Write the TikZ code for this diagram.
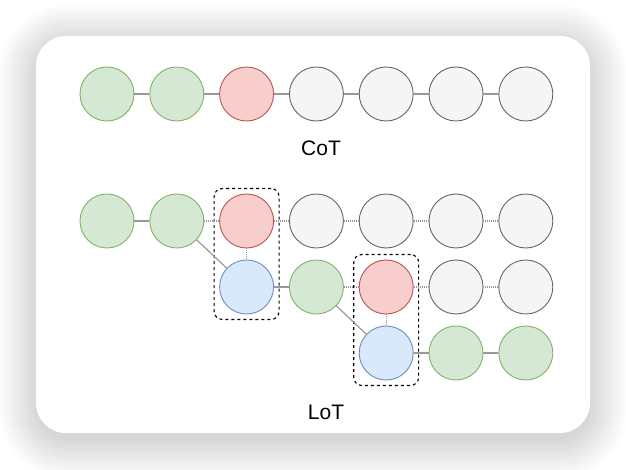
\documentclass[tikz,border=0pt]{standalone}
\usepackage{fontspec}
\setmainfont{Liberation Sans}
\usetikzlibrary{fit}
\definecolor{gfill}{HTML}{D5E8D4}
\definecolor{gline}{HTML}{82B366}
\definecolor{rfill}{HTML}{F8CECC}
\definecolor{rline}{HTML}{B85450}
\definecolor{nfill}{HTML}{F5F5F5}
\definecolor{nline}{HTML}{666666}
\definecolor{bfill}{HTML}{DAE8FC}
\definecolor{bline}{HTML}{6C8EBF}
\definecolor{conn}{HTML}{999999}
\tikzset{
  tok/.style={circle, minimum size=54pt, inner sep=0pt, line width=0.9pt},
  gtok/.style={tok, fill=gfill, draw=gline},
  rtok/.style={tok, fill=rfill, draw=rline},
  ntok/.style={tok, fill=nfill, draw=nline},
  btok/.style={tok, fill=bfill, draw=bline},
  solidlink/.style={draw=conn, line width=1.2pt},
  dotlink/.style={draw=conn, line width=1.1pt, dash pattern=on 1pt off 1pt},
  groupbox/.style={draw=black, dashed, line width=1.1pt, rounded corners=8pt, inner sep=5pt},
  lbl/.style={font=\fontsize{21}{24}\selectfont, text=black, inner sep=0pt}
}
\begin{document}
\begin{tikzpicture}[x=1pt,y=-1pt]
\useasboundingbox (0,0) rectangle (626,470);
\fill[white] (0,0) rectangle (626,470);
% shadow
\foreach \i in {1,...,40}{
  \fill[black, fill opacity=0.0042, rounded corners={30pt+\i pt}] (38-\i,44-\i) rectangle (588+\i,439+\i);
}
\fill[white, rounded corners=30pt] (36,36) rectangle (590,433);
% CoT row
\foreach \n/\x/\s in {1/107/gtok,2/176.8/gtok,3/246.6/rtok,4/316.4/ntok,5/386.2/ntok,6/456/ntok,7/525.8/ntok}{
  \node[\s] (t\n) at (\x,94) {};
}
\foreach \a/\b in {1/2,2/3,3/4,4/5,5/6,6/7}{
  \draw[solidlink] (t\a) -- (t\b);
}
\node[lbl] (cot) at (321,148) {CoT};
% LoT rows
\foreach \n/\x/\s in {1/107/gtok,2/176.8/gtok,3/246.6/rtok,4/316.4/ntok,5/386.2/ntok,6/456/ntok,7/525.8/ntok}{
  \node[\s] (a\n) at (\x,221) {};
}
\foreach \n/\x/\s in {3/246.6/btok,4/316.4/gtok,5/386.2/rtok,6/456/ntok,7/525.8/ntok}{
  \node[\s] (b\n) at (\x,287) {};
}
\foreach \n/\x/\s in {5/386.2/btok,6/456/gtok,7/525.8/gtok}{
  \node[\s] (c\n) at (\x,353) {};
}
\node[groupbox, fit=(a3)(b3)] (box1) {};
\node[groupbox, fit=(b5)(c5)] (box2) {};
% row 1 links
\draw[solidlink] (a1) -- (a2);
\foreach \a/\b in {2/3,3/4,4/5,5/6,6/7}{
  \draw[dotlink] (a\a) -- (a\b);
}
\draw[dotlink] (a3) -- (b3);
\draw[solidlink] (a2) -- (b3);
% row 2 links
\draw[solidlink] (b3) -- (b4);
\foreach \a/\b in {4/5,5/6,6/7}{
  \draw[dotlink] (b\a) -- (b\b);
}
\draw[dotlink] (b5) -- (c5);
\draw[solidlink] (b4) -- (c5);
% row 3 links
\draw[solidlink] (c5) -- (c6);
\draw[solidlink] (c6) -- (c7);
\node[lbl] (lot) at (326,412) {LoT};
\end{tikzpicture}
\end{document}
